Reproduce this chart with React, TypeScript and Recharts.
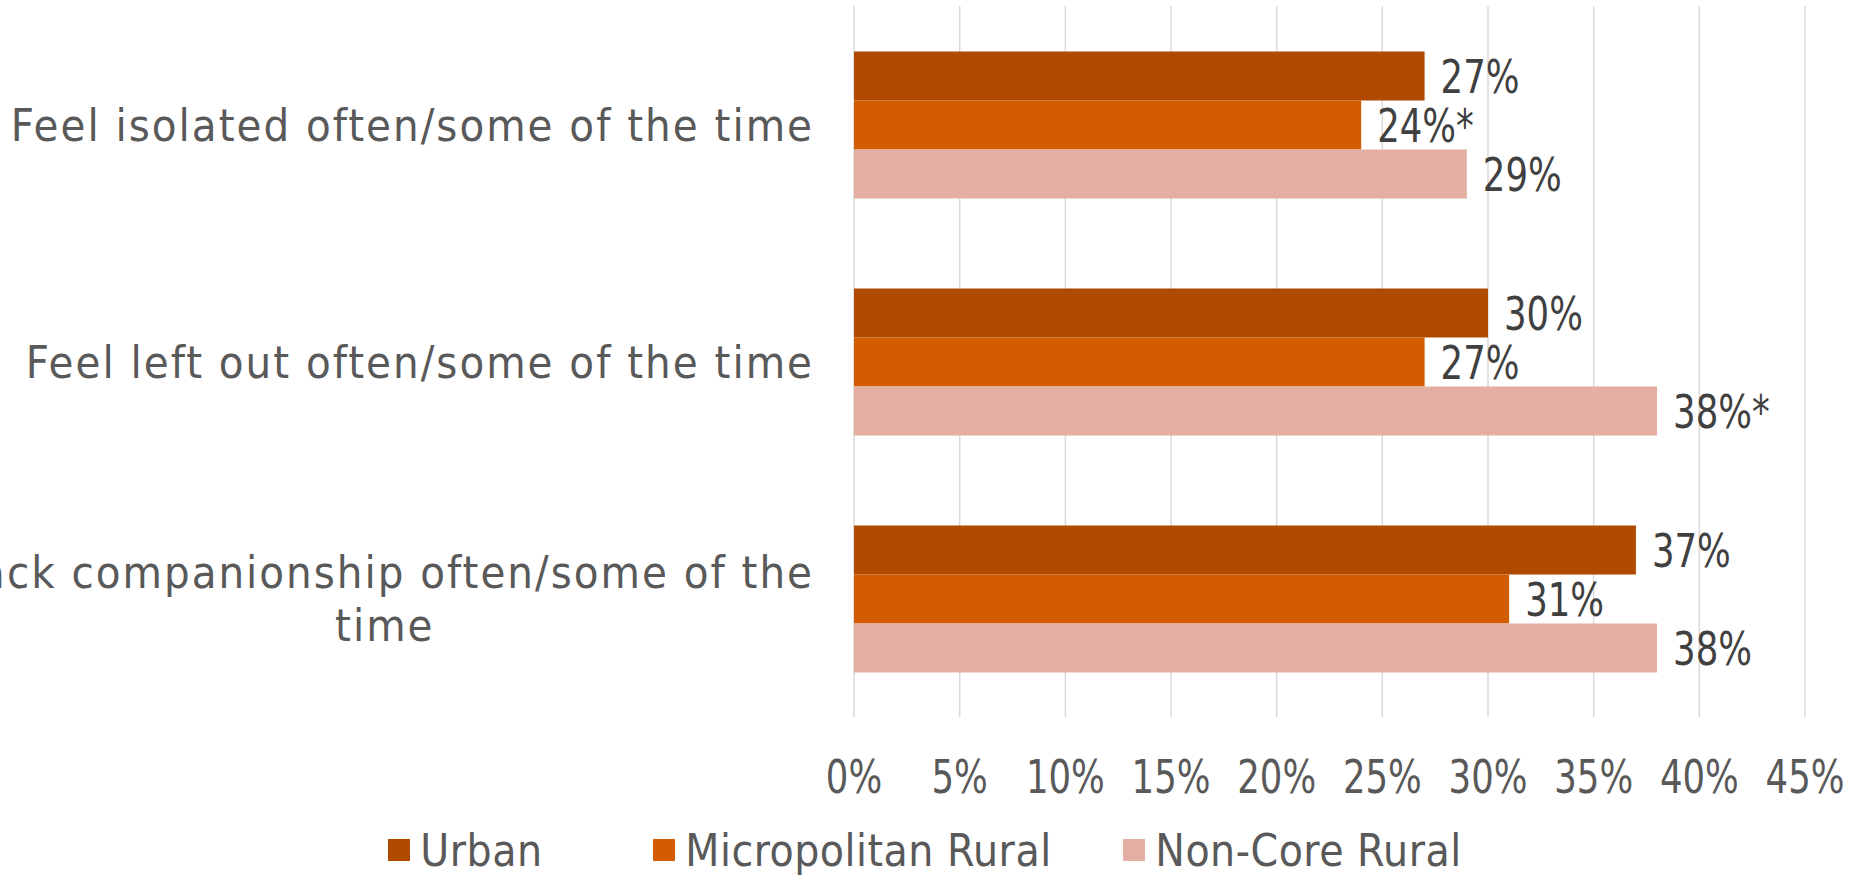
import { Bar, BarChart, CartesianGrid, LabelList, Legend, XAxis, YAxis } from "recharts";

const categories = [
	"Feel isolated often/some of the time",
	"Feel left out often/some of the time",
	"Lack companionship often/some of the time",
];
const urban = [27, 30, 37];
const micropolitan = [24, 27, 31];
const nonCore = [29, 38, 38];
// an asterisk marks a significant difference
const micropolitanFlags = [true, false, false];
const nonCoreFlags = [false, true, false];
const seriesNames = ["Urban", "Micropolitan Rural", "Non-Core Rural"];
const seriesColors = ["#B04A00", "#D45C00", "#E4AFA2"];
const xTicks = [0, 5, 10, 15, 20, 25, 30, 35, 40, 45];

const LABEL_FONT = '"DejaVu Sans Condensed", "DejaVu Sans", sans-serif';
const NUM_FONT = LABEL_FONT;
const NUM_SIZE = 47;
const NUM_SQUEEZE = 0.84; // numbers are set narrower than the labels
const CAT_SIZE = 45;
const CAT_SPACING = 2;
const WRAP_WIDTH = 860;

const pct = (v: number, star = false) => `${Math.round(v)}%${star ? "*" : ""}`;

const data = categories.map((name, i) => ({
	name,
	urban: urban[i],
	micropolitan: micropolitan[i],
	nonCore: nonCore[i],
	urbanLabel: pct(urban[i]),
	micropolitanLabel: pct(micropolitan[i], micropolitanFlags[i]),
	nonCoreLabel: pct(nonCore[i], nonCoreFlags[i]),
}));

let ctx: CanvasRenderingContext2D | null = null;
const measure = (text: string) => {
	if (!ctx) ctx = document.createElement("canvas").getContext("2d");
	if (!ctx) return text.length * CAT_SIZE * 0.5;
	ctx.font = `${CAT_SIZE}px ${LABEL_FONT}`;
	return ctx.measureText(text).width + text.length * CAT_SPACING;
};

// word wrap like the spreadsheet axis does
const wrap = (text: string) => {
	const words = text.split(" ");
	const lines: string[] = [];
	let line = "";
	for (const w of words) {
		const next = line ? `${line} ${w}` : w;
		if (line && measure(next) > WRAP_WIDTH) {
			lines.push(line);
			line = w;
		} else {
			line = next;
		}
	}
	if (line) lines.push(line);
	return lines;
};

const YTick = (props: any) => {
	const { x, y, payload } = props;
	const lines = wrap(payload.value);
	const maxW = Math.max(...lines.map(measure));
	const cx = x - 40 - maxW / 2;
	const lineHeight = 53;
	const first = y + 16 - ((lines.length - 1) * lineHeight) / 2;
	return (
		<text textAnchor="middle" fill="#595959" fontFamily={LABEL_FONT} fontSize={CAT_SIZE} letterSpacing={CAT_SPACING}>
			{lines.map((l, i) => (
				<tspan key={i} x={cx} y={first + i * lineHeight}>
					{l}
				</tspan>
			))}
		</text>
	);
};

const NumText = ({ x, y, anchor, fill, children }: any) => (
	<text
		transform={`translate(${x},${y}) scale(${NUM_SQUEEZE},1)`}
		textAnchor={anchor}
		fill={fill}
		fontFamily={NUM_FONT}
		fontSize={NUM_SIZE}
	>
		{children}
	</text>
);

const XTick = (props: any) => {
	const { x, y, payload } = props;
	return (
		<NumText x={x} y={y + 76} anchor="middle" fill="#595959">
			{`${payload.value}%`}
		</NumText>
	);
};

const BarValue = (props: any) => {
	const { x, y, width, height, value } = props;
	return (
		<NumText x={x + width + 16} y={y + height / 2 + 17} anchor="start" fill="#404040">
			{value}
		</NumText>
	);
};

// each legend entry sits in a slot of fixed width, the last one sizes to its text
const legendSlots = [265, 470, undefined];

const LegendContent = () => (
	<div
		style={{
			display: "flex",
			justifyContent: "center",
			alignItems: "center",
			height: 60,
			fontFamily: LABEL_FONT,
			fontSize: 44,
			color: "#595959",
		}}
	>
		{seriesNames.map((n, i) => (
			<div key={n} style={{ display: "flex", alignItems: "center", width: legendSlots[i] }}>
				<div style={{ width: 22, height: 22, background: seriesColors[i], marginRight: 10 }} />
				<span style={{ letterSpacing: 0.5 }}>{n}</span>
			</div>
		))}
	</div>
);

export default function App() {
	return (
		<div style={{ position: "absolute", left: 0, top: 0 }}>
			<BarChart
				width={1850}
				height={880}
				data={data}
				layout="vertical"
				margin={{ top: 6, right: 45, left: 0, bottom: 0 }}
				barCategoryGap="19.2%"
				barGap={0}
			>
				<CartesianGrid horizontal={false} stroke="#d9d9d9" strokeWidth={1.5} />
				<XAxis
					type="number"
					domain={[0, 45]}
					ticks={xTicks}
					interval={0}
					axisLine={false}
					tickLine={false}
					tickSize={0}
					tickMargin={0}
					height={103}
					tick={<XTick />}
				/>
				<YAxis
					type="category"
					dataKey="name"
					width={854}
					axisLine={false}
					tickLine={false}
					tickSize={0}
					tickMargin={0}
					tick={<YTick />}
				/>
				<Legend verticalAlign="bottom" wrapperStyle={{ left: 0, width: 1850, height: 60, bottom: 0 }} content={<LegendContent />} />
				<Bar dataKey="urban" name={seriesNames[0]} fill={seriesColors[0]} isAnimationActive={false}>
					<LabelList dataKey="urbanLabel" content={<BarValue />} />
				</Bar>
				<Bar dataKey="micropolitan" name={seriesNames[1]} fill={seriesColors[1]} isAnimationActive={false}>
					<LabelList dataKey="micropolitanLabel" content={<BarValue />} />
				</Bar>
				<Bar dataKey="nonCore" name={seriesNames[2]} fill={seriesColors[2]} isAnimationActive={false}>
					<LabelList dataKey="nonCoreLabel" content={<BarValue />} />
				</Bar>
			</BarChart>
		</div>
	);
}
